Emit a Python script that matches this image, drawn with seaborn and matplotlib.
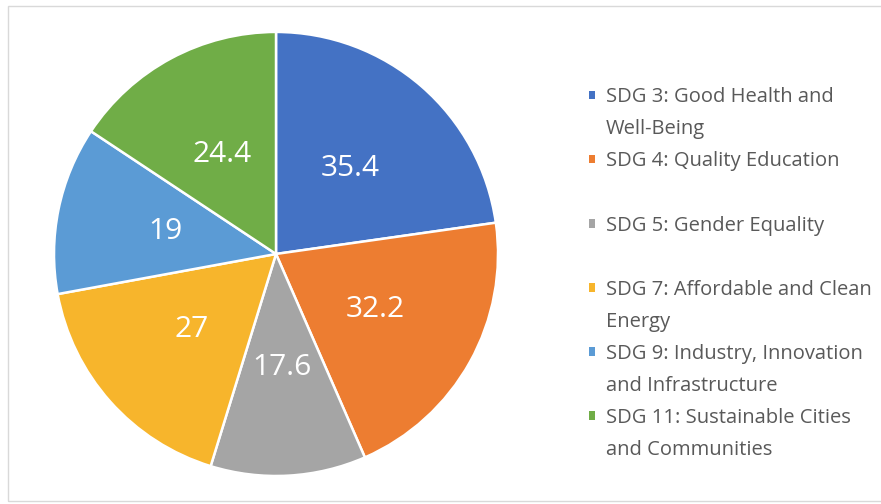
import matplotlib.pyplot as plt
import seaborn as sns
from matplotlib.patches import Patch, Rectangle

# data
categories = [
    "SDG 3: Good Health and Well-Being",
    "SDG 4: Quality Education",
    "SDG 5: Gender Equality",
    "SDG 7: Affordable and Clean Energy",
    "SDG 9: Industry, Innovation and Infrastructure",
    "SDG 11: Sustainable Cities and Communities",
]
values = [35.4, 32.2, 17.6, 27, 19, 24.4]
# legend text as it is wrapped in the picture (second row blank = gap)
legend_rows = [
    ["SDG 3: Good Health and", "Well-Being"],
    ["SDG 4: Quality Education", " "],
    ["SDG 5: Gender Equality", " "],
    ["SDG 7: Affordable and Clean", "Energy"],
    ["SDG 9: Industry, Innovation", "and Infrastructure"],
    ["SDG 11: Sustainable Cities", "and Communities"],
]
colors = ["#4472C4", "#ED7D31", "#A5A5A5", "#F7B52C", "#5B9BD5", "#70AD47"]

sns.set_theme(style="white")
plt.rcParams['font.family'] = ['Open Sans', 'DejaVu Sans']

fig = plt.figure(figsize=(8.81, 5.04), dpi=100)
ax = fig.add_axes([0.0613, 0.0556, 0.504, 0.881])

total = sum(values)
wedges, texts, autotexts = ax.pie(
    values,
    colors=sns.color_palette(colors),
    startangle=90,
    counterclock=False,
    autopct=lambda p: f"{round(p * total / 100, 1):g}",
    pctdistance=0.51,
    wedgeprops=dict(edgecolor="white", linewidth=1.8),
    textprops=dict(color="white", fontsize=21.5),
)
ax.set_xlim(-1, 1)
ax.set_ylim(-1, 1)
ax.set_aspect("equal")

# legend: one row per text line, marker only on the first line
handles, labels = [], []
for color, rows in zip(colors, legend_rows):
    handles.append(Patch(facecolor=color, edgecolor="none"))
    labels.append(rows[0])
    handles.append(Patch(facecolor="none", edgecolor="none"))
    labels.append(rows[1])

fig.legend(
    handles, labels,
    loc="upper left",
    bbox_to_anchor=(0.6686, 0.827),
    frameon=False,
    borderpad=0,
    borderaxespad=0,
    handlelength=0.28,
    handleheight=0.28,
    handletextpad=0.55,
    labelspacing=0.6,
    fontsize=14.5,
    labelcolor="#595959",
)

# light chart-area border
fig.patches.append(Rectangle((8 / 881, 3 / 504), 1.0, 495 / 504,
                             transform=fig.transFigure, fill=False,
                             edgecolor="#D9D9D9", linewidth=1))

fig.savefig("out.png", dpi=100)
